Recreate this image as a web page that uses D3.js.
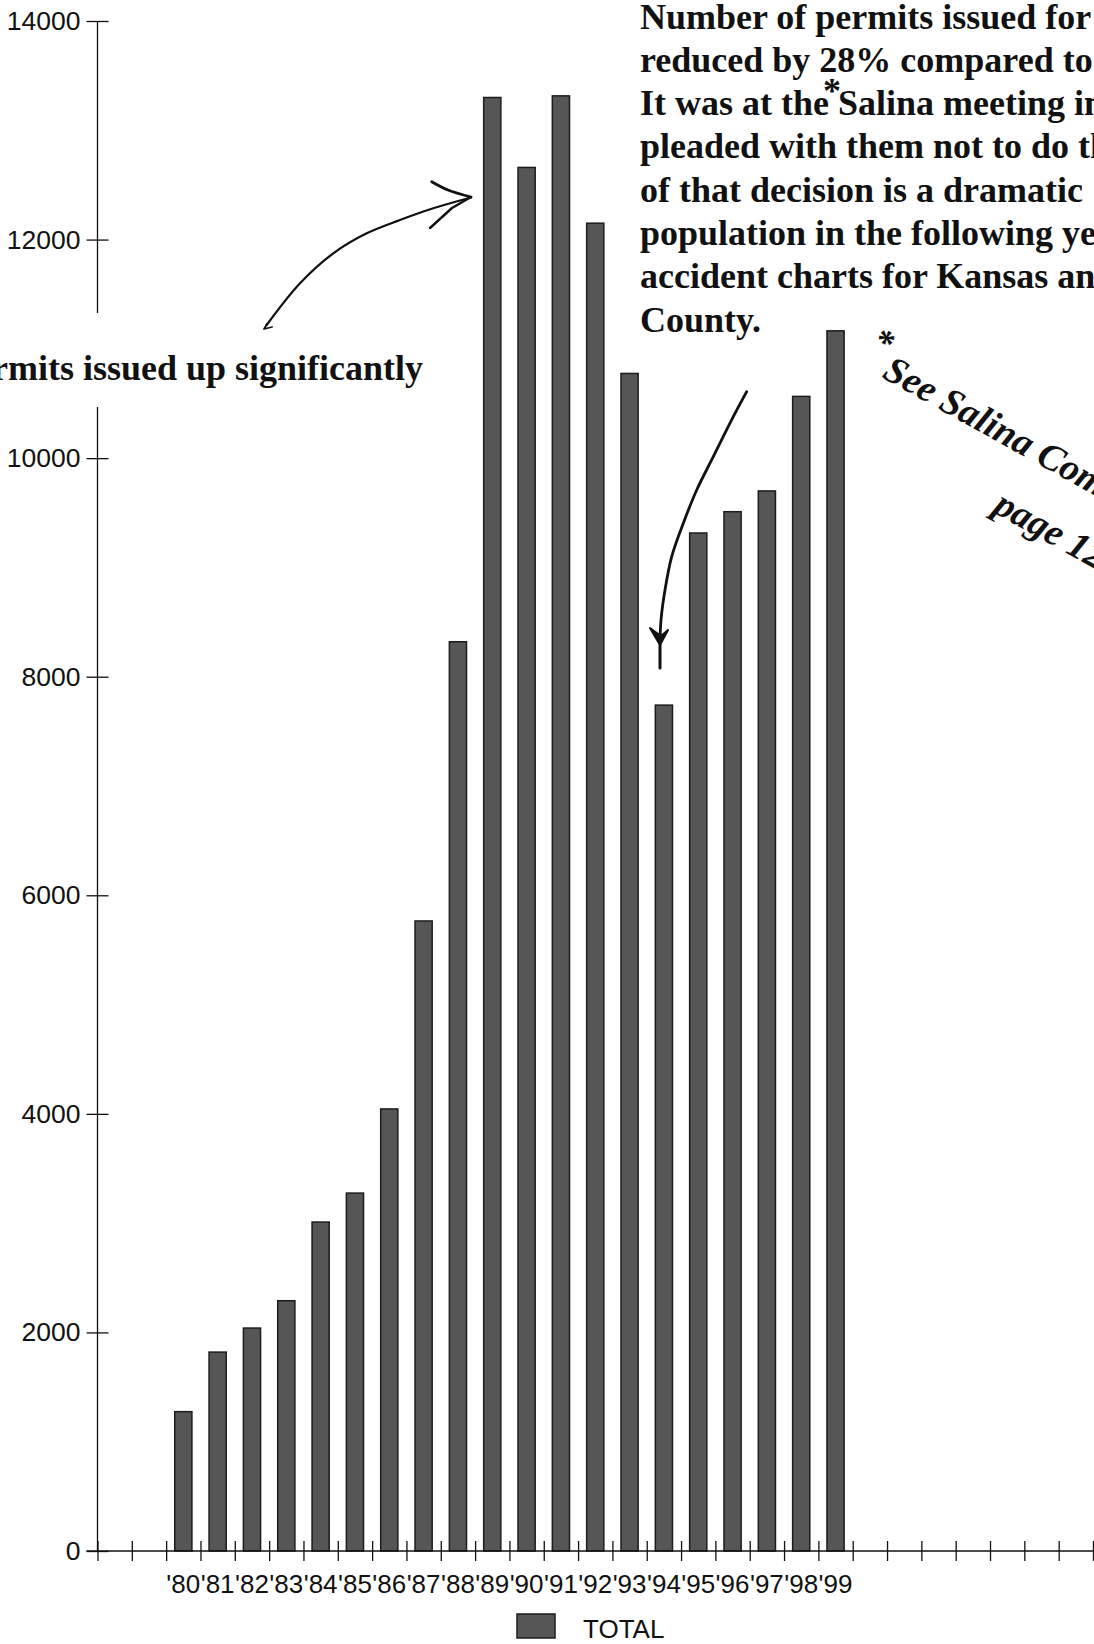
<!DOCTYPE html>
<html>
<head>
<meta charset="utf-8">
<title>Permits issued 1980-1999</title>
<script src="https://cdn.jsdelivr.net/npm/d3@7"></script>
<style>
  html, body { margin: 0; padding: 0; background: #fff; }
  svg { display: block; }
</style>
</head>
<body>
<svg id="chart" width="1094" height="1644"></svg>
<script>
// ---- data -------------------------------------------------------------
const years = ["'80", "'81", "'82", "'83", "'84", "'85", "'86", "'87", "'88", "'89",
               "'90", "'91", "'92", "'93", "'94", "'95", "'96", "'97", "'98", "'99"];
const permits = [1275, 1820, 2040, 2290, 3010, 3275, 4045, 5765, 8320, 13300,
                 12660, 13315, 12150, 10775, 7740, 9315, 9510, 9700, 10565, 11165];
// empty category slots on either side of the plotted years
const leadingSlots = ["pre1", "pre2"];
const trailingSlots = ["post1", "post2", "post3", "post4", "post5", "post6", "post7"];
const yTicks = [0, 2000, 4000, 6000, 8000, 10000, 12000, 14000];
const seriesName = "TOTAL";

const noteLines = [
  "Number of permits issued for",
  "reduced by 28% compared to",
  "It was at the Salina meeting in",
  "pleaded with them not to do th",
  "of that decision is a dramatic",
  "population in the following ye",
  "accident charts for Kansas an",
  "County."
];
const leftNote = "rmits issued up significantly";
const footnoteLines = ["See Salina Com", "page 12"];

// ---- layout -----------------------------------------------------------
const W = 1094, H = 1644;
const x0 = 97.5, x1 = 1093;      // category axis extent
const yTop = 21, yBase = 1551;   // value axis extent

const svg = d3.select("#chart");
const sans = "'Liberation Sans', Arial, sans-serif";
const serif = "'Liberation Serif', 'Times New Roman', serif";

const slots = leadingSlots.concat(years, trailingSlots);
const x = d3.scaleBand().domain(slots).range([x0, x1])
  .paddingInner(0.5).paddingOuter(0.25);
const slotIndex = d3.scaleLinear().domain([0, slots.length]).range([x0, x1]);
const y = d3.scaleLinear().domain([0, 14000]).range([yBase, yTop]);

const data = years.map((yr, i) => ({ year: yr, value: permits[i] }));

// ---- bars -------------------------------------------------------------
svg.append("g").attr("class", "bars")
  .selectAll("rect").data(data).join("rect")
  .attr("x", d => x(d.year))
  .attr("width", x.bandwidth())
  .attr("y", d => y(d.value))
  .attr("height", d => y(0) - y(d.value))
  .attr("fill", "#565656")
  .attr("stroke", "#1c1c1c")
  .attr("stroke-width", 1.5);

// ---- value axis -------------------------------------------------------
const yAxis = svg.append("g").attr("transform", `translate(${x0},0)`)
  .call(d3.axisLeft(y).tickValues(yTicks).tickFormat(d3.format("d")).tickSize(11));
yAxis.select(".domain").remove();
yAxis.selectAll(".tick line").attr("x1", -11).attr("x2", 11)
  .attr("stroke", "#111").attr("stroke-width", 1.3);
yAxis.selectAll(".tick text").attr("x", -17)
  .style("font-family", sans).style("font-size", "26.5px").attr("fill", "#111");
svg.append("line")
  .attr("x1", x0).attr("x2", x0).attr("y1", y(14000)).attr("y2", y(0))
  .attr("stroke", "#111").attr("stroke-width", 1.3);

// ---- category axis ----------------------------------------------------
const xAxis = svg.append("g").attr("transform", `translate(0,${yBase})`)
  .call(d3.axisBottom(slotIndex).tickValues(d3.range(slots.length + 1))
    .tickFormat("").tickSize(10));
xAxis.select(".domain").remove();
xAxis.selectAll(".tick line").attr("y1", -10).attr("y2", 10)
  .attr("stroke", "#111").attr("stroke-width", 1.3);
svg.append("line")
  .attr("x1", x0 - 11).attr("x2", W).attr("y1", yBase).attr("y2", yBase)
  .attr("stroke", "#111").attr("stroke-width", 1.6);

svg.append("g").attr("class", "year-labels")
  .selectAll("text").data(years).join("text")
  .attr("x", d => x(d) + x.bandwidth() / 2)
  .attr("y", 1593)
  .attr("text-anchor", "middle")
  .style("font-family", sans).style("font-size", "26px").attr("fill", "#111")
  .text(d => d);

// ---- legend -----------------------------------------------------------
const legend = svg.append("g").attr("class", "legend");
legend.append("rect")
  .attr("x", 517).attr("y", 1614).attr("width", 38).attr("height", 24)
  .attr("fill", "#565656").attr("stroke", "#1c1c1c").attr("stroke-width", 1.5);
legend.append("text")
  .attr("x", 583).attr("y", 1638)
  .style("font-family", sans).style("font-size", "26px").attr("fill", "#111")
  .text(seriesName);

// ---- annotations ------------------------------------------------------
const ann = svg.append("g").attr("class", "annotations");

// left caption, sitting on a white strip that interrupts the value axis
ann.append("rect").attr("x", 0).attr("y", 313).attr("width", 430).attr("height", 94)
  .attr("fill", "#fff");
ann.append("text")
  .attr("x", 423).attr("y", 380).attr("text-anchor", "end")
  .style("font-family", serif).style("font-weight", "bold").style("font-size", "36px")
  .attr("fill", "#111")
  .text(leftNote);

// right-hand note block
ann.append("g").selectAll("text").data(noteLines).join("text")
  .attr("x", 640).attr("y", (d, i) => 28.5 + i * 43.3)
  .style("font-family", serif).style("font-weight", "bold").style("font-size", "36px")
  .attr("fill", "#111")
  .text(d => d);
ann.append("text")
  .attr("x", 832).attr("y", 103).attr("text-anchor", "middle")
  .style("font-family", serif).style("font-weight", "bold").style("font-size", "36px")
  .attr("fill", "#111").text("*");

// slanted footnote
const foot = ann.append("g").attr("transform", "translate(881,377) rotate(29)");
foot.append("text").attr("x", -14).attr("y", -20).attr("text-anchor", "middle")
  .style("font-family", serif).style("font-weight", "bold").style("font-size", "36px")
  .attr("fill", "#111").text("*");
foot.selectAll("text.fn").data(footnoteLines).join("text").attr("class", "fn")
  .attr("x", (d, i) => i * 162).attr("y", (d, i) => i * 64)
  .style("font-family", serif).style("font-weight", "bold").style("font-style", "italic")
  .style("font-size", "38px").attr("fill", "#111")
  .text(d => d);

// hand-drawn arrows
const pen = d3.line().curve(d3.curveCatmullRom.alpha(0.5));
const arrowUp = [[266.7, 325], [300, 283.3], [333.3, 253.3], [366.7, 233.3],
                 [400, 220], [433.3, 208.3], [471, 197.5]];
ann.append("path").attr("d", pen(arrowUp))
  .attr("fill", "none").attr("stroke", "#111").attr("stroke-width", 2.2)
  .attr("stroke-linecap", "round");
ann.append("path").attr("d", pen([[431.7, 181.7], [448, 190], [471, 197]]))
  .attr("fill", "none").attr("stroke", "#111").attr("stroke-width", 2.8)
  .attr("stroke-linecap", "round");
ann.append("path").attr("d", "M430,228 L452,208 M471,197 L452,208")
  .attr("fill", "none").attr("stroke", "#111").attr("stroke-width", 2.4)
  .attr("stroke-linecap", "round");
ann.append("path").attr("d", "M264,329 L267,324 M264,329 L272,327")
  .attr("fill", "none").attr("stroke", "#111").attr("stroke-width", 1.8)
  .attr("stroke-linecap", "round");

const arrowDown = [[746.7, 391.7], [733.3, 416.7], [713.3, 456.7], [696.7, 490],
                   [683.3, 523.3], [671.7, 556.7], [665, 590], [661, 620], [660, 643]];
ann.append("path").attr("d", pen(arrowDown))
  .attr("fill", "none").attr("stroke", "#111").attr("stroke-width", 2.8)
  .attr("stroke-linecap", "round");
ann.append("path").attr("d", "M650,628 L660,645 L668,630 L661,636 Z")
  .attr("fill", "#111").attr("stroke", "#111").attr("stroke-width", 2)
  .attr("stroke-linejoin", "round");
ann.append("path").attr("d", "M660,643 L660,668")
  .attr("fill", "none").attr("stroke", "#111").attr("stroke-width", 3)
  .attr("stroke-linecap", "round");
</script>
</body>
</html>
